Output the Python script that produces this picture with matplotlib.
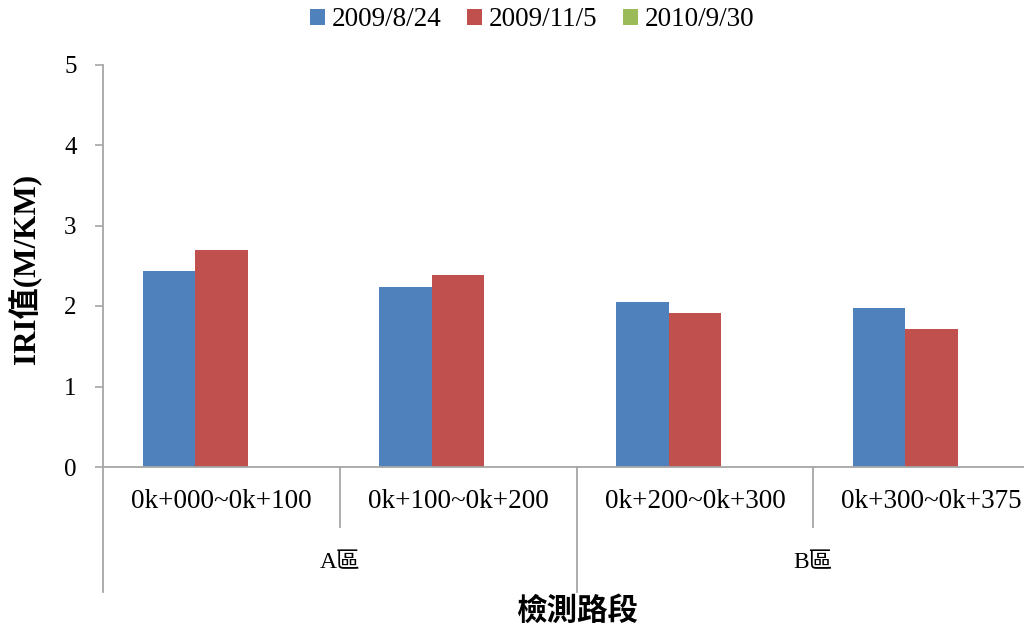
import matplotlib
matplotlib.use("Agg")
import matplotlib.pyplot as plt
import numpy as np

# Data
segments = ["0k+000~0k+100", "0k+100~0k+200", "0k+200~0k+300", "0k+300~0k+375"]
zones = ["A區", "B區"]
series_names = ["2009/8/24", "2009/11/5", "2010/9/30"]
iri_2009_08_24 = [2.44, 2.24, 2.05, 1.97]
iri_2009_11_05 = [2.70, 2.39, 1.91, 1.71]
iri_2010_09_30 = [np.nan, np.nan, np.nan, np.nan]
y_ticks = [0, 1, 2, 3, 4, 5]

colors = ["#4F81BD", "#C0504D", "#9BBB59"]
axis_gray = "#A6A6A6"
fams = ["Liberation Serif", "Noto Sans CJK TC"]
plt.rcParams["font.family"] = fams

W, H = 1024, 626
fig = plt.figure(figsize=(W / 100, H / 100), dpi=100)

# axes geometry in pixels (plot area extends past the right edge)
x0, x1 = 103, 1050
y_top, y_bot = 64.5, 467
ax = fig.add_axes([x0 / W, 1 - y_bot / H, (x1 - x0) / W, (y_bot - y_top) / H])

x = np.arange(len(segments))
bw = 0.222
all_series = [iri_2009_08_24, iri_2009_11_05, iri_2010_09_30]
handles = []
for i, (vals, c, name) in enumerate(zip(all_series, colors, series_names)):
    b = ax.bar(x + (i - 1) * bw, vals, width=bw, color=c, label=name,
               edgecolor="none")
    handles.append(b)

ax.set_xlim(-0.5, len(segments) - 0.5)
ax.set_ylim(0, 5)
ax.set_yticks(y_ticks)
ax.set_yticklabels([str(t) for t in y_ticks], fontsize=18)
ax.tick_params(axis="y", direction="out", length=6, width=1.2,
               color=axis_gray, pad=13)
ax.set_xticks([])

for s in ["top", "right"]:
    ax.spines[s].set_visible(False)
for s in ["left", "bottom"]:
    ax.spines[s].set_color(axis_gray)
    ax.spines[s].set_linewidth(1.3)

span = y_bot - y_top
def ay(px):
    return (y_bot - px) / span

tr = ax.get_xaxis_transform()
# left spine extension and group separators
for xs in [-0.5, 1.5, 3.5]:
    ax.plot([xs, xs], [0, ay(592)], transform=tr, color=axis_gray,
            lw=1.3, clip_on=False)
# inner separators between segments
for xs in [0.5, 2.5]:
    ax.plot([xs, xs], [0, ay(527)], transform=tr, color=axis_gray,
            lw=1.3, clip_on=False)

# segment labels
for xi, lab in zip(x, segments):
    ax.text(xi, ay(501), lab, transform=tr, ha="center", va="center",
            fontsize=19.5, clip_on=False)
# zone labels
for zi, lab in enumerate(zones):
    ax.text(zi * 2 + 0.5, ay(563), lab, transform=tr, ha="center",
            va="center", fontsize=17, clip_on=False)

# axis titles
fig.text(577 / W, 1 - 611 / H, "檢測路段", ha="center", va="center",
         fontsize=22, fontweight="bold", family=["Noto Sans CJK TC"])
fig.text(25 / W, 1 - 269 / H, "IRI值(M/KM)", ha="center", va="center",
         rotation=90, fontsize=22.5, fontweight="bold", family=fams)

fig.legend(handles=handles, labels=series_names, loc="center", ncol=3,
           bbox_to_anchor=(532 / W, 1 - 20 / H), frameon=False,
           fontsize=19.5, handlelength=0.55, handleheight=0.55,
           handletextpad=0.25, columnspacing=0.95)

fig.savefig("out.png", dpi=100)
